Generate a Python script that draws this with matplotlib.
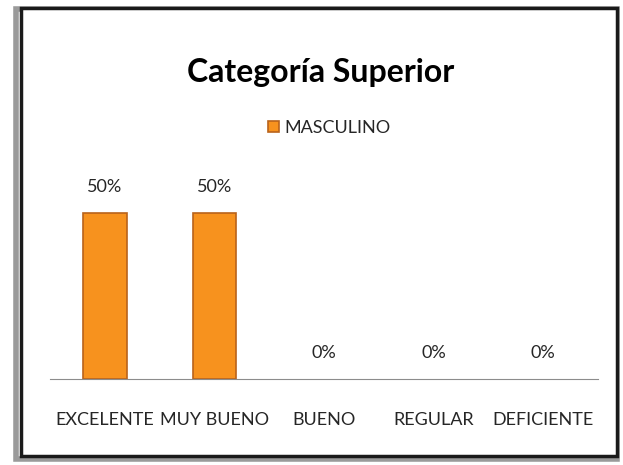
import matplotlib.pyplot as plt
from matplotlib.patches import Rectangle

# Chart data
categories = ['EXCELENTE', 'MUY BUENO', 'BUENO', 'REGULAR', 'DEFICIENTE']
values = [50, 50, 0, 0, 0]
series_name = 'MASCULINO'

font = ['Lato', 'DejaVu Sans']
text_color = '#262626'

fig = plt.figure(figsize=(6.23, 4.65), dpi=100)

# Frame with shadow
fig.patches.append(Rectangle((0.025, 0.012), 0.965, 0.968, transform=fig.transFigure,
                             facecolor='none', edgecolor='#9a9a9a', lw=4, zorder=0))
fig.patches.append(Rectangle((0.034, 0.02), 0.956, 0.963, transform=fig.transFigure,
                             facecolor='white', edgecolor='#1a1a1a', lw=2.5, zorder=1))

ax = fig.add_axes([0.0803, 0.185, 0.8796, 0.45])
ax.set_zorder(2)
ax.patch.set_alpha(0)

x = range(len(categories))
edges = ['#B9631B' if v > 0 else 'none' for v in values]
bars = ax.bar(x, values, width=0.4, color='#F7921E', edgecolor=edges, lw=1.2,
              label=series_name)

for bar, v in zip(bars, values):
    ax.text(bar.get_x() + bar.get_width() / 2, v + 5.5, f'{v}%', ha='center',
            va='bottom', fontsize=13, family=font, color=text_color)

ax.set_xlim(-0.5, len(categories) - 0.5)
ax.set_ylim(0, 63)
ax.set_xticks(list(x))
ax.set_xticklabels(categories, fontsize=13, family=font, color=text_color)
ax.tick_params(axis='x', length=0, pad=24)
ax.set_yticks([])
for s in ['top', 'right', 'left']:
    ax.spines[s].set_visible(False)
ax.spines['bottom'].set_color('#8c8c8c')

fig.text(0.515, 0.845, 'Categoría Superior', ha='center', va='center', fontsize=23,
         fontweight='bold', family=font, color='black')

leg = fig.legend(loc='center', bbox_to_anchor=(0.528, 0.725), frameon=False,
                 prop={'family': font, 'size': 13}, handlelength=0.6, handleheight=0.6,
                 handletextpad=0.3)
for t in leg.get_texts():
    t.set_color(text_color)

fig.savefig('out.png', dpi=100)
